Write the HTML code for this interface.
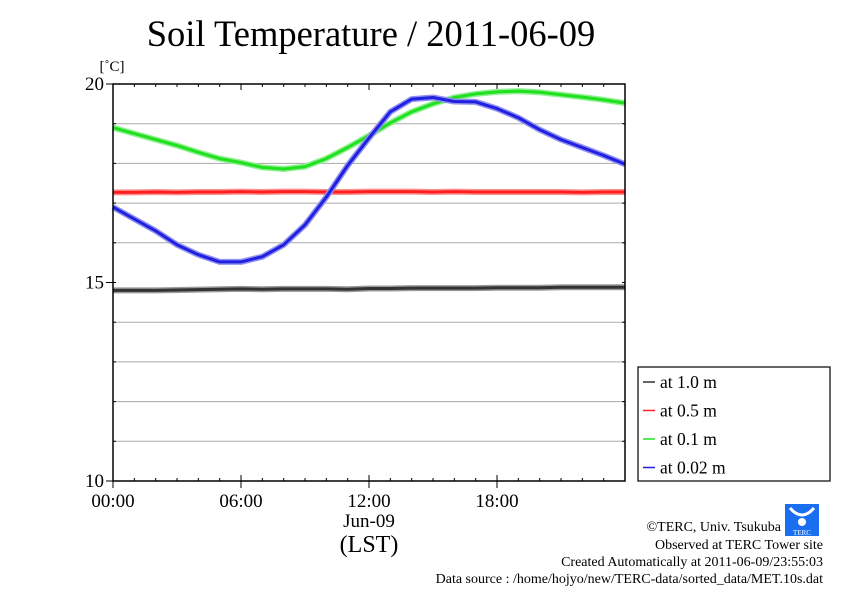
<!DOCTYPE html>
<html><head><meta charset="utf-8"><style>
body{margin:0;background:#fff;}
svg text{font-family:"Liberation Serif",serif;}
</style></head><body>
<svg width="842" height="595" xmlns="http://www.w3.org/2000/svg">
<text x="371" y="46" font-size="36.5" text-anchor="middle">Soil Temperature / 2011-06-09</text>
<text x="112" y="71" font-size="15" text-anchor="middle">[˚C]</text>
<g id="grid"></g>
<g id="ticks"></g>
<g id="series"></g>
<rect x="113" y="84" width="512" height="397" fill="none" stroke="#000" stroke-width="1.5"/>
<g id="labels"></g>
<text x="369" y="527" font-size="19" text-anchor="middle">Jun-09</text>
<text x="369" y="552" font-size="24" text-anchor="middle">(LST)</text>
<g>
<rect x="638" y="367" width="192" height="114" fill="#fff" stroke="#000" stroke-width="1.2"/>
<g id="legend"></g>
</g>
<g>
<rect x="785" y="504" width="34" height="32" fill="#1a6ff0"/>
<path d="M790 508 Q802 522 814 508" stroke="#fff" stroke-width="3" fill="none"/>
<circle cx="802" cy="522" r="4" fill="#fff"/>
<text x="802" y="535" font-size="7" fill="#fff" text-anchor="middle" font-family="Liberation Sans">TERC</text>
</g>
<g font-size="14" text-anchor="end">
<text x="781" y="531">©TERC, Univ. Tsukuba</text>
<text x="823" y="549">Observed at TERC Tower site</text>
<text x="823" y="566">Created Automatically at 2011-06-09/23:55:03</text>
<text x="823" y="583">Data source : /home/hojyo/new/TERC-data/sorted_data/MET.10s.dat</text>
</g>
</svg>
<script>
const hours=[0,1,2,3,4,5,6,7,8,9,10,11,12,13,14,15,16,17,18,19,20,21,22,23,24];
const s002=[16.9,16.6,16.3,15.95,15.7,15.52,15.52,15.65,15.95,16.45,17.15,17.95,18.64,19.3,19.62,19.66,19.56,19.55,19.38,19.15,18.85,18.6,18.4,18.2,17.98];
const s01=[18.9,18.75,18.6,18.45,18.28,18.12,18.02,17.9,17.86,17.92,18.12,18.4,18.7,19.02,19.3,19.5,19.66,19.75,19.8,19.82,19.79,19.73,19.67,19.6,19.52];
const s05=[17.27,17.27,17.28,17.27,17.28,17.28,17.29,17.28,17.29,17.29,17.28,17.28,17.29,17.29,17.29,17.28,17.29,17.28,17.28,17.28,17.28,17.28,17.27,17.28,17.28];
const s10=[14.8,14.8,14.8,14.81,14.82,14.83,14.84,14.83,14.84,14.84,14.84,14.83,14.85,14.85,14.86,14.86,14.86,14.86,14.87,14.87,14.87,14.88,14.88,14.88,14.88];
const yTicks=[10,15,20];
const xTicks=[0,6,12,18];
const xTickLabels=["00:00","06:00","12:00","18:00"];
const names=["at 1.0 m","at 0.5 m","at 0.1 m","at 0.02 m"];
const NS="http://www.w3.org/2000/svg";
const X=h=>113+h/24*512, Y=v=>84+(20-v)*39.7;
function mk(t,a,p){const e=document.createElementNS(NS,t);for(const k in a)e.setAttribute(k,a[k]);p.appendChild(e);return e;}
const grid=document.getElementById('grid'),ticks=document.getElementById('ticks'),lab=document.getElementById('labels');
for(let v=11;v<20;v++){if(v===15)continue;const l=mk('line',{x1:113,x2:625,y1:Y(v),y2:Y(v),stroke:'#aaa','stroke-width':1},grid);}
for(let h=1;h<24;h++){const len=h%6===0?6:3;mk('line',{x1:X(h),x2:X(h),y1:84,y2:84+len,stroke:'#000'},ticks);mk('line',{x1:X(h),x2:X(h),y1:481,y2:481-len,stroke:'#000'},ticks);}
for(let v=11;v<20;v++){mk('line',{x1:113,x2:116,y1:Y(v),y2:Y(v),stroke:'#000'},ticks);mk('line',{x1:625,x2:622,y1:Y(v),y2:Y(v),stroke:'#000'},ticks);}
yTicks.forEach(v=>{mk('line',{x1:106,x2:113,y1:Y(v),y2:Y(v),stroke:'#000'},ticks);const t=mk('text',{x:104,y:Y(v)+6,'font-size':19,'text-anchor':'end'},lab);t.textContent=v;});
xTicks.forEach((h,i)=>{mk('line',{x1:X(h),x2:X(h),y1:481,y2:488,stroke:'#000'},ticks);const t=mk('text',{x:X(h),y:507,'font-size':19,'text-anchor':'middle'},lab);t.textContent=xTickLabels[i];});
const ser=[[s10,'#333','#999'],[s05,'#ff2020','#ff9090'],[s01,'#20e020','#90f090'],[s002,'#2020e0','#9090f0']];
const sg=document.getElementById('series');
ser.forEach((s,i)=>{const d=s[0].map((v,j)=>(j?'L':'M')+X(hours[j]).toFixed(1)+' '+Y(v).toFixed(1)).join(' ');
mk('path',{d:d,stroke:s[2],'stroke-width':6,fill:'none','stroke-linejoin':'round'},sg);
const p=mk('path',{d:d,stroke:s[1],'stroke-width':3,fill:'none','stroke-linejoin':'round'},sg);
});
const lg=document.getElementById('legend');
names.forEach((n,i)=>{const y=382+i*28.5;mk('line',{x1:643,x2:655,y1:y,y2:y,stroke:ser[i][1],'stroke-width':1.5},lg);const t=mk('text',{x:660,y:y+6,'font-size':17.5},lg);t.textContent=n;});
</script>
</body></html>
